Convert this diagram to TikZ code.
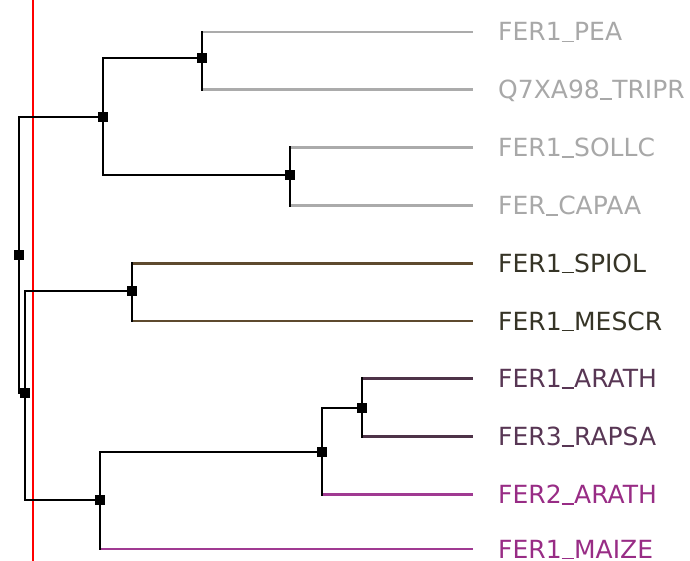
\documentclass[tikz,border=0pt]{standalone}
\usepackage{fontspec}
\setmainfont{DejaVu Sans}
\definecolor{leafgrey}{HTML}{A8A8A8}
\definecolor{linegrey}{HTML}{ABABAB}
\definecolor{leafbrown}{HTML}{363426}
\definecolor{linebrown}{HTML}{5E4A2E}
\definecolor{leafplum}{HTML}{583654}
\definecolor{lineplum}{HTML}{4E3348}
\definecolor{leafpurple}{HTML}{982C85}
\definecolor{linepurple}{HTML}{A03A92}
\newcommand{\usc}{\rule[-1.2pt]{0.5em}{1.6pt}}

\begin{document}
\begin{tikzpicture}[x=1pt,y=-1pt,
  br/.style={line width=2.8pt,line cap=rect},
  tip/.style={br,shorten >=26pt},
  joint/.style={fill=black,minimum size=10pt,inner sep=0pt},
  leaf/.style={anchor=west,inner sep=0pt,text height=18pt,text depth=0pt,
    font=\fontsize{25}{28}\selectfont}]
\useasboundingbox (0,0) rectangle (690,561);
\draw[red,line width=2.2pt] (33,0)--(33,561);
% leaves
\node[leaf,text=leafgrey] (pea) at (498,32) {FER1\usc PEA};
\node[leaf,text=leafgrey] (tripr) at (498,89.8) {Q7XA98\usc TRIPR};
\node[leaf,text=leafgrey] (sollc) at (498,147.6) {FER1\usc SOLLC};
\node[leaf,text=leafgrey] (capaa) at (498,205.4) {FER\usc CAPAA};
\node[leaf,text=leafbrown] (spiol) at (498,263.2) {FER1\usc SPIOL};
\node[leaf,text=leafbrown] (mescr) at (498,321) {FER1\usc MESCR};
\node[leaf,text=leafplum] (arath) at (498,378.8) {FER1\usc ARATH};
\node[leaf,text=leafplum] (rapsa) at (498,436.6) {FER3\usc RAPSA};
\node[leaf,text=leafpurple] (arathb) at (498,494.4) {FER2\usc ARATH};
\node[leaf,text=leafpurple] (maize) at (498,549) {FER1\usc MAIZE};
% joints
\coordinate (pt) at (202,58);
\coordinate (sc) at (290,175);
\coordinate (fab) at (103,117);
\coordinate (sm) at (132,291);
\coordinate (ar) at (362,408);
\coordinate (bra) at (322,452);
\coordinate (mon) at (100,500);
\coordinate (low) at (25,393);
\coordinate (root) at (19,255);
% leaf branches
\draw[tip,linegrey] (pt |- pea)--(pea.west);
\draw[tip,linegrey] (pt |- tripr)--(tripr.west);
\draw[tip,linegrey] (sc |- sollc)--(sollc.west);
\draw[tip,linegrey] (sc |- capaa)--(capaa.west);
\draw[tip,linebrown] (sm |- spiol)--(spiol.west);
\draw[tip,linebrown] (sm |- mescr)--(mescr.west);
\draw[tip,lineplum] (ar |- arath)--(arath.west);
\draw[tip,lineplum] (ar |- rapsa)--(rapsa.west);
\draw[tip,linepurple] (bra |- arathb)--(arathb.west);
\draw[tip,linepurple] (mon |- maize)--(maize.west);
% inner branches
\draw[br] (pt |- pea)--(pt |- tripr);
\draw[br] (sc |- sollc)--(sc |- capaa);
\draw[br] (sm |- spiol)--(sm |- mescr);
\draw[br] (ar |- arath)--(ar |- rapsa);
\draw[br] (pt)-|(fab)|-(sc);
\draw[br] (ar)-|(bra)--(bra |- arathb);
\draw[br] (bra)-|(mon)--(mon |- maize);
\draw[br] (sm)-|(low |- sm)--(low |- mon)--(mon);
\draw[br] (fab)-|(root)|-(low);
\foreach \j in {pt,sc,fab,sm,ar,bra,mon,low,root}
  \node[joint] (\j-box) at (\j) {};
\end{tikzpicture}
\end{document}
